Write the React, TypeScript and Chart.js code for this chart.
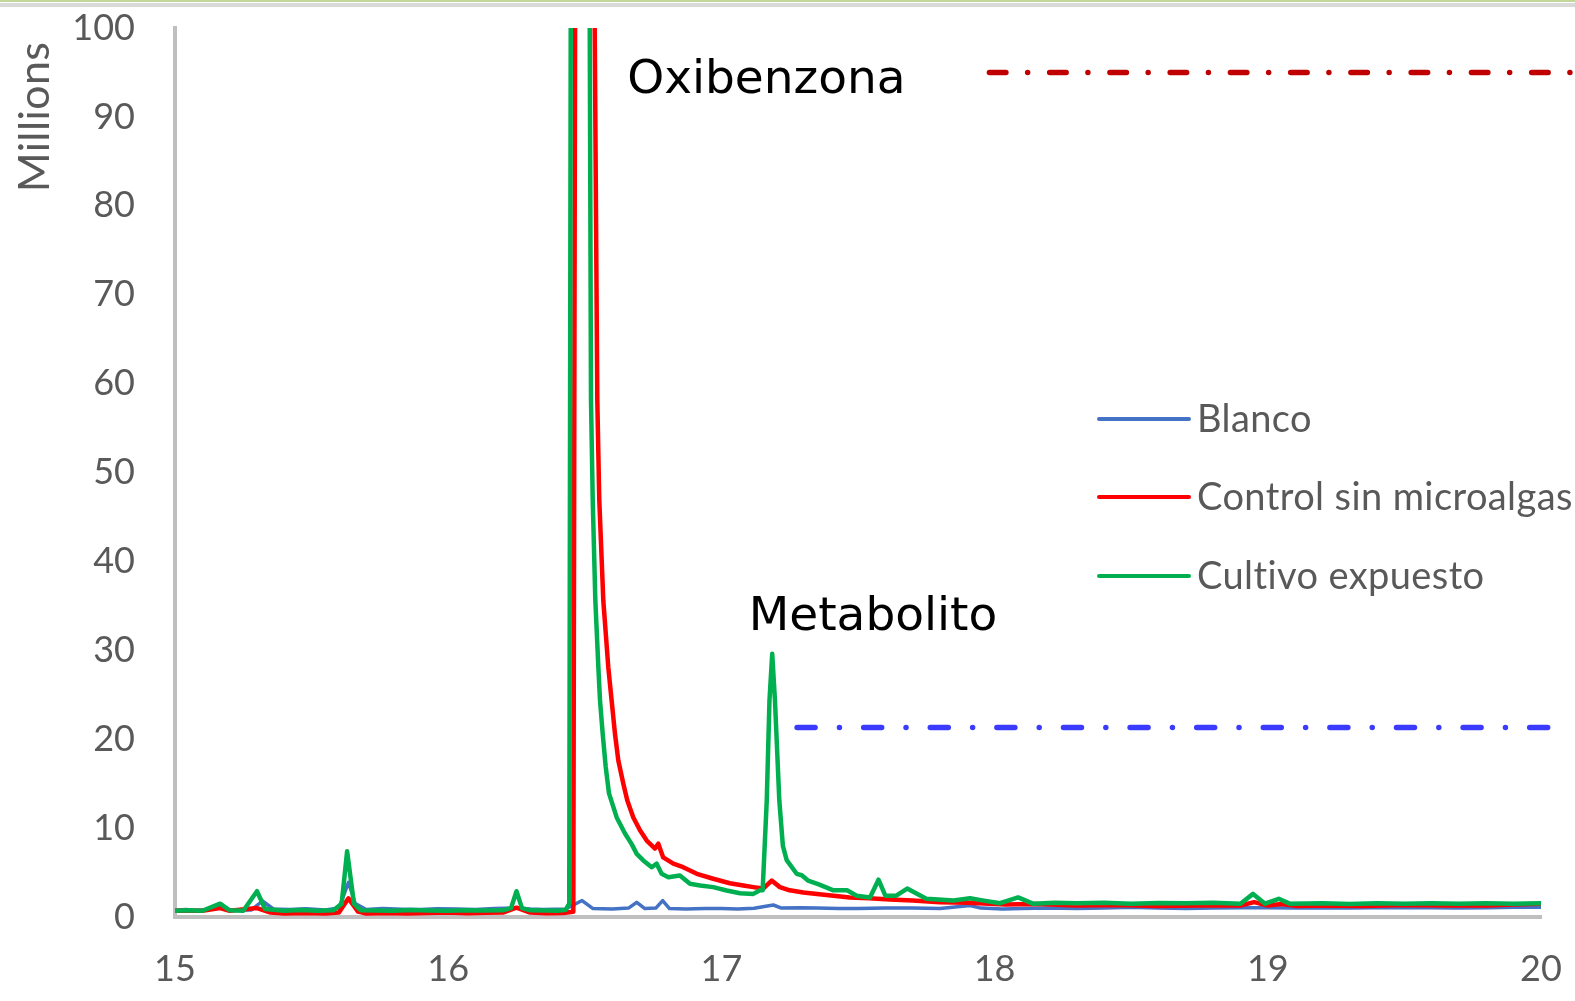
import React, { useEffect, useRef } from 'react';
import { Chart, registerables } from 'chart.js';

Chart.register(...registerables);

// ---- data ----
const seriesNames = ['Blanco', 'Control sin microalgas', 'Cultivo expuesto'];
const xTickValues = [15, 16, 17, 18, 19, 20];
const yTickValues = [0, 10, 20, 30, 40, 50, 60, 70, 80, 90, 100];

const blancoT = [15.0, 15.04, 15.08, 15.12, 15.165, 15.2, 15.25, 15.28, 15.32, 15.36, 15.42, 15.48, 15.55, 15.6, 15.635, 15.66, 15.7, 15.76, 15.83, 15.9, 15.96, 16.03, 16.1, 16.17, 16.25, 16.3, 16.35, 16.43, 16.49, 16.53, 16.6, 16.66, 16.69, 16.72, 16.76, 16.785, 16.81, 16.87, 16.94, 17.0, 17.06, 17.12, 17.19, 17.22, 17.29, 17.35, 17.43, 17.5, 17.6, 17.7, 17.8, 17.91, 17.95, 18.03, 18.1, 18.2, 18.3, 18.4, 18.5, 18.6, 18.7, 18.8, 18.9, 19.0, 19.1, 19.2, 19.3, 19.45, 19.6, 19.7, 19.8, 19.9, 20.0];
const blancoV = [0.75, 0.85, 0.72, 0.8, 1.2, 0.8, 0.78, 0.8, 1.8, 0.9, 0.85, 0.92, 0.8, 1.0, 3.9, 1.5, 0.85, 0.95, 0.88, 0.85, 0.93, 0.9, 0.85, 0.95, 1.0, 0.9, 0.85, 0.9, 1.85, 0.95, 0.9, 1.0, 1.65, 0.95, 1.0, 1.85, 0.95, 0.9, 0.95, 0.95, 0.9, 0.98, 1.35, 1.0, 1.05, 1.0, 0.95, 0.95, 1.0, 1.0, 0.95, 1.3, 1.0, 0.9, 0.95, 1.0, 0.95, 1.0, 1.1, 1.0, 0.95, 1.0, 1.05, 1.05, 1.0, 1.05, 1.0, 1.08, 1.05, 1.0, 1.05, 1.1, 1.1];

const controlT = [15.0, 15.1, 15.165, 15.2, 15.3, 15.35, 15.4, 15.47, 15.55, 15.6, 15.635, 15.67, 15.7, 15.78, 15.85, 15.92, 16.0, 16.07, 16.14, 16.2, 16.25, 16.3, 16.36, 16.42, 16.458, 16.465, 16.534, 16.5458, 16.553, 16.5677, 16.586, 16.598, 16.6105, 16.6227, 16.641, 16.6556, 16.6776, 16.702, 16.7266, 16.757, 16.769, 16.787, 16.824, 16.86, 16.91, 16.97, 17.031, 17.08, 17.117, 17.153, 17.184, 17.214, 17.25, 17.3, 17.35, 17.41, 17.47, 17.54, 17.617, 17.7, 17.8, 17.9, 18.04, 18.15, 18.3, 18.45, 18.6, 18.75, 18.9, 18.95, 19.0, 19.05, 19.1, 19.2, 19.35, 19.5, 19.65, 19.8, 19.9, 20.0];
const controlV = [0.7, 0.7, 1.0, 0.7, 1.0, 0.5, 0.4, 0.45, 0.38, 0.5, 2.1, 0.6, 0.4, 0.45, 0.38, 0.45, 0.5, 0.42, 0.48, 0.5, 1.05, 0.5, 0.42, 0.45, 0.6, 110, 110, 58.1, 46.9, 35.6, 28.1, 24.4, 20.6, 17.6, 15.0, 13.1, 11.2, 9.75, 8.6, 7.7, 8.25, 6.7, 6.0, 5.6, 4.86, 4.3, 3.8, 3.55, 3.36, 3.2, 4.1, 3.36, 3.0, 2.75, 2.6, 2.4, 2.2, 2.1, 1.97, 1.85, 1.67, 1.6, 1.4, 1.45, 1.3, 1.35, 1.25, 1.3, 1.3, 1.67, 1.3, 1.45, 1.25, 1.3, 1.25, 1.35, 1.3, 1.3, 1.4, 1.5];

const cultivoT = [15.0, 15.05, 15.1, 15.165, 15.2, 15.25, 15.3, 15.33, 15.4, 15.46, 15.52, 15.58, 15.61, 15.63, 15.655, 15.68, 15.74, 15.8, 15.86, 15.93, 16.0, 16.06, 16.13, 16.2, 16.23, 16.25, 16.27, 16.3, 16.36, 16.4, 16.43, 16.443, 16.449, 16.517, 16.5227, 16.529, 16.5386, 16.5496, 16.5556, 16.5655, 16.5765, 16.5886, 16.6167, 16.6471, 16.6716, 16.69, 16.714, 16.745, 16.763, 16.781, 16.806, 16.848, 16.885, 16.922, 16.97, 17.019, 17.068, 17.117, 17.141, 17.151, 17.166, 17.176, 17.186, 17.196, 17.212, 17.225, 17.239, 17.2755, 17.294, 17.317, 17.354, 17.41, 17.46, 17.495, 17.544, 17.575, 17.6, 17.64, 17.68, 17.75, 17.85, 17.91, 17.95, 18.02, 18.086, 18.14, 18.22, 18.3, 18.4, 18.5, 18.6, 18.7, 18.8, 18.9, 18.946, 18.99, 19.04, 19.08, 19.2, 19.3, 19.4, 19.5, 19.6, 19.7, 19.8, 19.9, 20.0];
const cultivoV = [0.7, 0.75, 0.7, 1.5, 0.75, 0.7, 2.9, 0.9, 0.7, 0.78, 0.7, 0.75, 1.5, 7.4, 1.5, 0.75, 0.72, 0.7, 0.78, 0.72, 0.7, 0.76, 0.72, 0.75, 1.0, 2.9, 1.0, 0.75, 0.72, 0.7, 0.8, 1.5, 110, 110, 58.1, 46.9, 35.6, 28.1, 24.4, 20.6, 16.9, 13.9, 11.2, 9.4, 8.2, 7.1, 6.36, 5.6, 6.0, 4.86, 4.48, 4.67, 3.73, 3.55, 3.36, 2.98, 2.68, 2.6, 3.0, 3.0, 13.1, 24.4, 29.6, 24.4, 13.1, 8.0, 6.4, 4.86, 4.7, 4.1, 3.7, 3.0, 3.0, 2.4, 2.2, 4.2, 2.4, 2.4, 3.2, 2.05, 1.86, 2.1, 1.9, 1.55, 2.2, 1.5, 1.6, 1.55, 1.6, 1.5, 1.58, 1.55, 1.6, 1.5, 2.6, 1.5, 2.05, 1.5, 1.55, 1.45, 1.55, 1.5, 1.55, 1.5, 1.55, 1.5, 1.55];

const peakLabels = ['Oxibenzona', 'Metabolito'];
const peakLabelTimes = [16.655, 17.1];
const peakLabelValues = [92.7, 32.25];
const refLineValues = [95, 21.33];
const refLineStarts = [17.981, 17.277];
const refLineEnd = 20.106;

// ---- styles ----
const seriesColors = ['#4472C4', '#FF0000', '#00B050'];
const refLineColors = ['#C00000', '#3B3BFF'];
const refLineDashes = [[16.5, 21.75, 0, 22], [18, 24.35, 0, 24.25]];
const textColor = '#595959';
const fontFamily = 'Lato, "Open Sans", sans-serif';
const labelFont = '"DejaVu Sans", sans-serif';

const toPoints = (t: number[], v: number[]) => t.map((tt, i) => ({ x: tt, y: v[i] }));

const overlayPlugin = {
  id: 'overlay',
  afterDatasetsDraw(chart: any) {
    const { ctx } = chart;
    const xs = chart.scales.x;
    const ys = chart.scales.y;
    ctx.save();
    // reference dash-dot lines
    refLineValues.forEach((val, i) => {
      ctx.beginPath();
      ctx.strokeStyle = refLineColors[i];
      ctx.lineWidth = 5.5;
      ctx.lineCap = 'round';
      ctx.setLineDash(refLineDashes[i]);
      const py = ys.getPixelForValue(val);
      ctx.moveTo(xs.getPixelForValue(refLineStarts[i]), py);
      ctx.lineTo(xs.getPixelForValue(refLineEnd), py);
      ctx.stroke();
    });
    ctx.setLineDash([]);
    // peak labels
    ctx.fillStyle = '#000000';
    ctx.font = `400 47px ${labelFont}`;
    ctx.textAlign = 'left';
    ctx.textBaseline = 'alphabetic';
    peakLabels.forEach((lab, i) => {
      ctx.fillText(lab, xs.getPixelForValue(peakLabelTimes[i]), ys.getPixelForValue(peakLabelValues[i]));
    });
    // legend
    const legendX0 = 1099;
    const legendX1 = 1189;
    const legendYs = [419, 497, 576];
    try { ctx.letterSpacing = '0.4px'; ctx.textRendering = 'optimizeSpeed'; } catch (e) { /* ignore */ }
    ctx.font = `400 38px ${fontFamily}`;
    ctx.textBaseline = 'middle';
    seriesNames.forEach((name, i) => {
      ctx.beginPath();
      ctx.strokeStyle = seriesColors[i];
      ctx.lineWidth = 4;
      ctx.lineCap = 'round';
      ctx.moveTo(legendX0, legendYs[i]);
      ctx.lineTo(legendX1, legendYs[i]);
      ctx.stroke();
      ctx.fillStyle = textColor;
      ctx.fillText(name, 1197, legendYs[i] + 1);
    });
    // y title
    ctx.translate(35, 117);
    ctx.rotate(-Math.PI / 2);
    ctx.textAlign = 'center';
    ctx.textBaseline = 'middle';
    ctx.fillStyle = textColor;
    ctx.font = `400 43px ${fontFamily}`;
    ctx.fillText('Millions', 0, 0);
    ctx.restore();
  },
};

export default function App() {
  const canvasRef = useRef<HTMLCanvasElement | null>(null);

  useEffect(() => {
    if (!canvasRef.current) return;
    const series = [toPoints(blancoT, blancoV), toPoints(controlT, controlV), toPoints(cultivoT, cultivoV)];
    const chart = new Chart(canvasRef.current, {
      type: 'line',
      data: {
        datasets: series.map((pts, i) => ({
          label: seriesNames[i],
          data: pts,
          borderColor: seriesColors[i],
          backgroundColor: seriesColors[i],
          borderWidth: i === 0 ? 3.5 : 4.5,
          pointRadius: 0,
          tension: 0,
          borderJoinStyle: 'round' as const,
          order: 3 - i,
        })),
      },
      options: {
        responsive: false,
        animation: false,
        layout: { padding: { top: 28, right: 34, left: 0, bottom: 0 } },
        plugins: { legend: { display: false }, tooltip: { enabled: false }, title: { display: false } },
        scales: {
          x: {
            type: 'linear',
            min: 15,
            max: 20,
            afterBuildTicks: (scale: any) => { scale.ticks = xTickValues.map((v) => ({ value: v })); },
            afterFit: (scale: any) => { scale.height = 84; scale.paddingLeft = 0; scale.paddingRight = 0; },
            grid: { display: false, drawTicks: false },
            border: { display: true, color: '#BFBFBF', width: 4 },
            ticks: { color: textColor, font: { family: fontFamily, size: 36 }, padding: 31, maxRotation: 0 },
          },
          y: {
            type: 'linear',
            min: 0,
            max: 100,
            afterBuildTicks: (scale: any) => { scale.ticks = yTickValues.map((v) => ({ value: v })); },
            afterFit: (scale: any) => { scale.width = 175; scale.paddingTop = 0; scale.paddingBottom = 0; },
            grid: { display: false, drawTicks: false },
            border: { display: true, color: '#BFBFBF', width: 4 },
            ticks: { color: textColor, font: { family: fontFamily, size: 36 }, padding: 40 },
          },
        },
      },
      plugins: [overlayPlugin],
    });
    return () => chart.destroy();
  }, []);

  return (
    <div style={{ position: 'absolute', left: 0, top: 0, width: 1575, height: 1001, background: '#fff', overflow: 'hidden' }}>
      <canvas ref={canvasRef} width={1575} height={1001} style={{ display: 'block' }} />
      <div style={{ position: 'absolute', left: 0, top: 0, width: 1575, height: 2, background: '#C4D79B' }} />
      <div style={{ position: 'absolute', left: 0, top: 3, width: 1575, height: 4, background: '#D9D9D9' }} />
    </div>
  );
}
